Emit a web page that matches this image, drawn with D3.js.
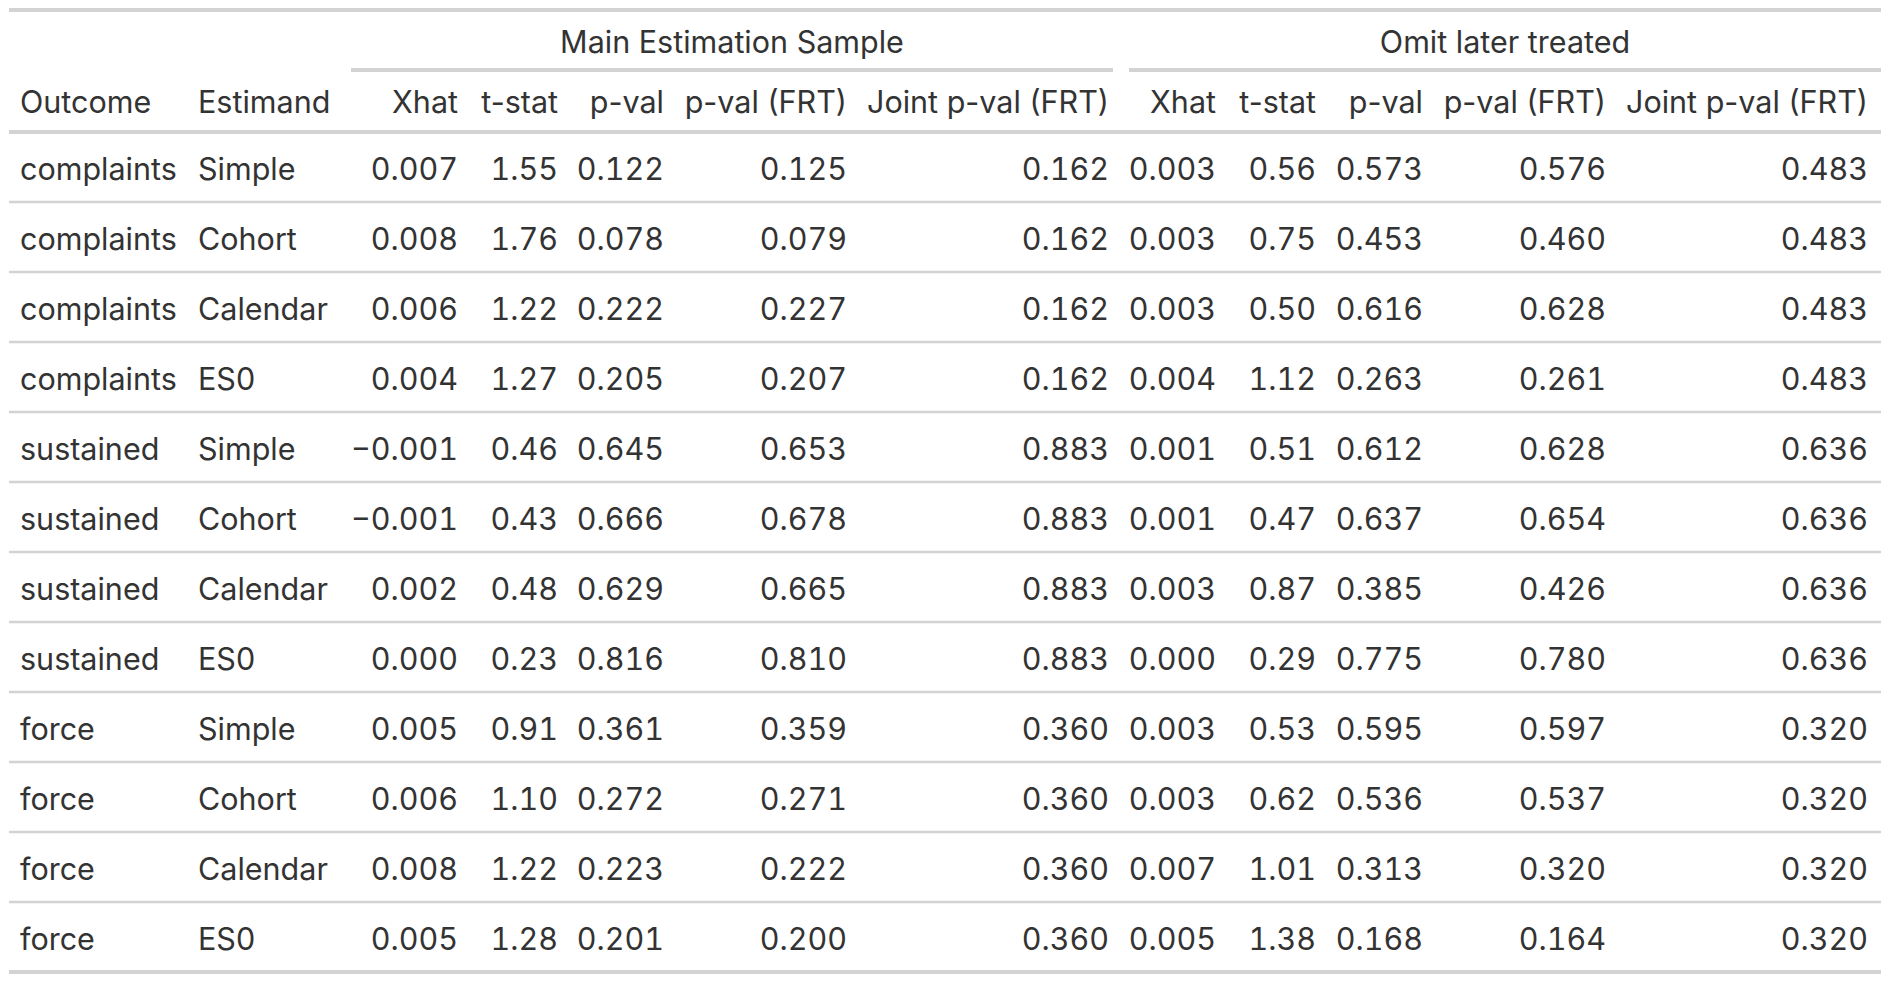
<!DOCTYPE html>
<html>
<head>
<meta charset="utf-8">
<script src="https://cdn.jsdelivr.net/npm/d3@7"></script>
<style>
  html, body { margin: 0; padding: 0; background: #ffffff; }
  svg text { font-family: Inter, "Noto Sans", sans-serif; fill: #333333; font-weight: 380; }
  svg text.num { font-feature-settings: "tnum" 1; font-variant-numeric: tabular-nums; }
</style>
</head>
<body>
<svg id="chart" width="1890" height="984"></svg>
<script>
// ---------- data ----------
const outcomes   = ["complaints","complaints","complaints","complaints","sustained","sustained","sustained","sustained","force","force","force","force"];
const estimands  = ["Simple","Cohort","Calendar","ES0","Simple","Cohort","Calendar","ES0","Simple","Cohort","Calendar","ES0"];

const spanners   = ["Main Estimation Sample", "Omit later treated"];
const colLabels  = ["Xhat","t-stat","p-val","p-val (FRT)","Joint p-val (FRT)"];

// Main Estimation Sample
const mainXhat   = [0.007,0.008,0.006,0.004,-0.001,-0.001,0.002,0.000,0.005,0.006,0.008,0.005];
const mainT      = [1.55,1.76,1.22,1.27,0.46,0.43,0.48,0.23,0.91,1.10,1.22,1.28];
const mainP      = [0.122,0.078,0.222,0.205,0.645,0.666,0.629,0.816,0.361,0.272,0.223,0.201];
const mainPFRT   = [0.125,0.079,0.227,0.207,0.653,0.678,0.665,0.810,0.359,0.271,0.222,0.200];
const mainJoint  = [0.162,0.162,0.162,0.162,0.883,0.883,0.883,0.883,0.360,0.360,0.360,0.360];

// Omit later treated
const omitXhat   = [0.003,0.003,0.003,0.004,0.001,0.001,0.003,0.000,0.003,0.003,0.007,0.005];
const omitT      = [0.56,0.75,0.50,1.12,0.51,0.47,0.87,0.29,0.53,0.62,1.01,1.38];
const omitP      = [0.573,0.453,0.616,0.263,0.612,0.637,0.385,0.775,0.595,0.536,0.313,0.168];
const omitPFRT   = [0.576,0.460,0.628,0.261,0.628,0.654,0.426,0.780,0.597,0.537,0.320,0.164];
const omitJoint  = [0.483,0.483,0.483,0.483,0.636,0.636,0.636,0.636,0.320,0.320,0.320,0.320];

// ---------- layout ----------
const W = 1890, H = 984;
const left = 9, right = 1881;
const fontSize = 30.5;
const lineColor = "#d3d3d3";

const f3 = d3.format(".3f"), f2 = d3.format(".2f");
const fmt = v => (v === 0 ? "0.000" : f3(v));

const svg = d3.select("#chart");
svg.append("rect").attr("width", W).attr("height", H).attr("fill", "#fff");

// row scale
const rowIdx = d3.range(outcomes.length);
const y = d3.scaleBand().domain(rowIdx).range([132, 972]);

// column anchors (right edges for numeric columns)
const numCols = [
  {g:0, label:colLabels[0], vals:mainXhat,  f:fmt},
  {g:0, label:colLabels[1], vals:mainT,     f:f2},
  {g:0, label:colLabels[2], vals:mainP,     f:f3},
  {g:0, label:colLabels[3], vals:mainPFRT,  f:f3},
  {g:0, label:colLabels[4], vals:mainJoint, f:f3},
  {g:1, label:colLabels[0], vals:omitXhat,  f:fmt},
  {g:1, label:colLabels[1], vals:omitT,     f:f2},
  {g:1, label:colLabels[2], vals:omitP,     f:f3},
  {g:1, label:colLabels[3], vals:omitPFRT,  f:f3},
  {g:1, label:colLabels[4], vals:omitJoint, f:f3}
];
const colRight = d3.scaleOrdinal().domain(d3.range(numCols.length))
  .range([458, 558, 664, 847, 1109, 1216, 1316, 1423, 1606, 1868]);
const spanX = d3.scaleOrdinal().domain([0,1]).range([[351,1113],[1129,1881]]);

// ---------- lines ----------
function hline(x1, x2, yy, w) {
  svg.append("line").attr("x1", x1).attr("x2", x2).attr("y1", yy).attr("y2", yy)
    .attr("stroke", lineColor).attr("stroke-width", w);
}
hline(left, right, 10, 4);     // top border
hline(left, right, 132, 4);    // header bottom
rowIdx.slice(1).forEach(i => hline(left, right, y(i), 2.5));
hline(left, right, 972, 4);    // bottom border

// spanners
spanners.forEach((s, i) => {
  const [a, b] = spanX(i);
  hline(a, b, 70, 4);
  svg.append("text").attr("x", (a + b) / 2).attr("y", 41)
    .attr("text-anchor", "middle").attr("dominant-baseline", "central")
    .attr("font-size", fontSize).text(s);
});

// header labels
const headY = 101;
svg.append("text").attr("x", 20).attr("y", headY).attr("dominant-baseline", "central")
  .attr("font-size", fontSize).text("Outcome");
svg.append("text").attr("x", 198).attr("y", headY).attr("dominant-baseline", "central")
  .attr("font-size", fontSize).text("Estimand");
numCols.forEach((c, j) => {
  svg.append("text").attr("x", colRight(j)).attr("y", headY)
    .attr("text-anchor", "end").attr("dominant-baseline", "central")
    .attr("font-size", fontSize).text(c.label);
});

// body
const rows = svg.selectAll("g.row").data(rowIdx).join("g").attr("class", "row")
  .attr("transform", i => `translate(0,${y(i) + y.bandwidth() / 2 + 1})`);
rows.append("text").attr("x", 20).attr("dominant-baseline", "central")
  .attr("font-size", fontSize).text(i => outcomes[i]);
rows.append("text").attr("x", 198).attr("dominant-baseline", "central")
  .attr("font-size", fontSize).text(i => estimands[i]);
numCols.forEach((c, j) => {
  rows.append("text").attr("class", "num").attr("x", colRight(j)).attr("text-anchor", "end")
    .attr("dominant-baseline", "central").attr("font-size", fontSize)
    .text(i => c.f(c.vals[i]));
});
</script>
</body>
</html>
